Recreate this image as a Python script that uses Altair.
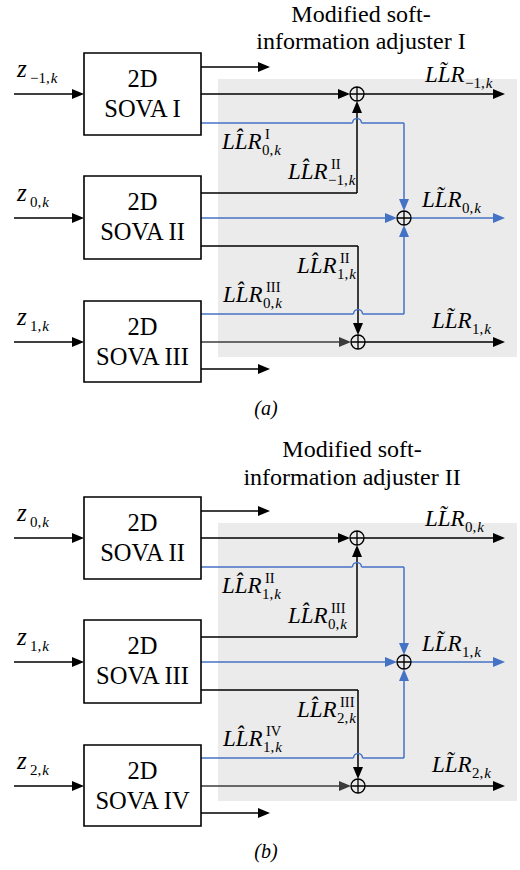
import altair as alt
import pandas as pd

W, H = 520, 870
FONT = "Liberation Serif"
BLACK = "#000000"
DARK = "#3c3c3c"
BLUE = "#4472C4"
PANEL_BG = "#EBEBEB"

# vertical offset of the lower diagram (b) relative to the upper one (a)
SHIFT = [0, 444]

# ---- blocks -------------------------------------------------------------
BOX_X = (84, 201)
BOX_TOP = [53, 176, 301]
BOX_BOTTOM = [135, 259, 382]
BOX_NAMES = [["SOVA I", "SOVA II", "SOVA III"],
             ["SOVA II", "SOVA III", "SOVA IV"]]
INPUT_Y = [94, 218, 342]
INPUT_SUB = [["\u22121,", "0,", "1,"], ["0,", "1,", "2,"]]

# shaded adjuster region
ADJ_X = (218, 517)
ADJ_Y = (79, 357)

# ---- connections: x1, y1, x2, y2, colour --------------------------------
SEGMENTS = [
    (14, 94, 76, 94, BLACK), (14, 218, 76, 218, BLACK), (14, 342, 76, 342, BLACK),
    (201, 67, 262, 67, BLACK),
    (201, 94, 344, 94, BLACK), (364, 94, 497, 94, BLACK),
    (201, 193, 357, 193, BLACK), (357, 193, 357, 108, BLACK),
    (201, 246, 358, 246, BLACK), (358, 246, 358, 328, BLACK),
    (201, 342, 345, 342, DARK), (365, 342, 497, 342, BLACK),
    (201, 369, 262, 369, BLACK),
    (201, 123, 352.5, 123, BLUE), (361.5, 123, 404, 123, BLUE), (404, 123, 404, 204, BLUE),
    (201, 218, 391, 218, BLUE), (411, 218, 497, 218, BLUE),
    (201, 314, 353.5, 314, BLUE), (362.5, 314, 404, 314, BLUE), (404, 314, 404, 232, BLUE),
]
# line hops where a blue wire crosses a black one
HOPS = [(357, 123), (358, 314)]

# arrow heads: tip x, tip y, direction, colour
ARROWS = [
    (84, 94, "R", BLACK), (84, 218, "R", BLACK), (84, 342, "R", BLACK),
    (270, 67, "R", BLACK), (350, 94, "R", BLACK), (505, 94, "R", BLACK),
    (357, 101, "U", BLACK), (358, 335, "D", BLACK), (351, 342, "R", DARK),
    (505, 342, "R", BLACK), (270, 369, "R", BLACK),
    (404, 211, "D", BLUE), (397, 218, "R", BLUE), (505, 218, "R", BLUE),
    (404, 225, "U", BLUE),
]
# adders (circle with plus)
ADDERS = [(357, 94), (404, 218), (358, 342)]

# ---- labels ---------------------------------------------------------------
HAT = "L" + "L\u0302" + "R"
TILDE = "L" + "L\u0303" + "R"
# x, baseline y, main text, subscript number part, superscript
WIRE_LABELS = [
    [(222, 149, HAT, "0,", "I"), (288, 179, HAT, "\u22121,", "II"),
     (297, 273, HAT, "1,", "II"), (223, 302, HAT, "0,", "III"),
     (425, 82, TILDE, "\u22121,", ""), (422, 207, TILDE, "0,", ""),
     (432, 328, TILDE, "1,", "")],
    [(222, 149, HAT, "1,", "II"), (288, 179, HAT, "0,", "III"),
     (297, 273, HAT, "2,", "III"), (223, 302, HAT, "1,", "IV"),
     (425, 82, TILDE, "0,", ""), (422, 207, TILDE, "1,", ""),
     (432, 328, TILDE, "2,", "")],
]
TITLES = [["Modified soft-", "information adjuster I"],
          ["Modified soft-", "information adjuster II"]]
TITLE_X = [361, 352]
TITLE_Y = [[22, 49], [457, 485]]
CAPTIONS = ["(a)", "(b)"]
CAPTION_X = 266
CAPTION_Y = [415, 858]

ARROW_PATH = {
    "R": "M 0 0 L -1.2 -0.5 L -1.2 0.5 Z",
    "U": "M 0 0 L -0.5 1.2 L 0.5 1.2 Z",
    "D": "M 0 0 L -0.5 -1.2 L 0.5 -1.2 Z",
}
ADDER_PATH = ("M 1 0 A 1 1 0 1 1 -1 0 A 1 1 0 1 1 1 0 Z "
              "M -1 0 L 1 0 M 0 -1 L 0 1")
HOP_PATH = "M -1 0 A 1 1 0 0 1 1 0"

CHAR_W = {"0": 0.5, "1": 0.5, "2": 0.5, ",": 0.25, "\u2212": 0.564}


def text_width(s, size):
    return sum(CHAR_W.get(c, 0.5) for c in s) * size


# ---- build tables ---------------------------------------------------------
bg, boxes, segs, hops, arrows, adders = [], [], [], [], [], []
texts = []  # x, y, t, size, italic, anchor
for p, dy in enumerate(SHIFT):
    bg.append(dict(x=ADJ_X[0], x2=ADJ_X[1], y=ADJ_Y[0] + dy, y2=ADJ_Y[1] + dy))
    for i in range(3):
        top, bot = BOX_TOP[i] + dy, BOX_BOTTOM[i] + dy
        boxes.append(dict(x=BOX_X[0], x2=BOX_X[1], y=top, y2=bot))
        cx = (BOX_X[0] + BOX_X[1]) / 2
        texts.append((cx, top + 34, "2D", 24.5, "n", "center"))
        texts.append((cx, top + 64, BOX_NAMES[p][i], 24.5, "n", "center"))
        zy = INPUT_Y[i] + dy - 17
        texts.append((17, zy, "z", 25, "i", "left"))
        num = INPUT_SUB[p][i]
        texts.append((30, zy + 6, num, 15, "n", "left"))
        texts.append((30 + text_width(num, 15) + 1, zy + 6, "k", 15, "i", "left"))
    for x1, y1, x2, y2, c in SEGMENTS:
        segs.append(dict(x=x1, y=y1 + dy, x2=x2, y2=y2 + dy, c=c))
    for x, y in HOPS:
        hops.append(dict(x=x, y=y + dy, shape=HOP_PATH))
    for x, y, d, c in ARROWS:
        arrows.append(dict(x=x, y=y + dy, shape=ARROW_PATH[d], c=c))
    for x, y in ADDERS:
        adders.append(dict(x=x, y=y + dy, shape=ADDER_PATH))
    for x, y, main, num, sup in WIRE_LABELS[p]:
        y = y + dy
        texts.append((x, y, main, 23, "i", "left"))
        sx = x + 40
        texts.append((sx, y + 6, num, 15, "n", "left"))
        texts.append((sx + text_width(num, 15) + 1, y + 6, "k", 15, "i", "left"))
        if sup:
            texts.append((x + 43, y - 10, sup, 14.5, "n", "left"))
    for j, line in enumerate(TITLES[p]):
        texts.append((TITLE_X[p], TITLE_Y[p][j], line, 24, "n", "center"))
    texts.append((CAPTION_X, CAPTION_Y[p], CAPTIONS[p], 20, "i", "center"))

text_df = pd.DataFrame(texts, columns=["x", "y", "t", "fsize", "style", "anchor"])

xs = alt.Scale(domain=[0, W], range=[0, W])
ys = alt.Scale(domain=[0, H], range=[0, H])
X = alt.X("x:Q", scale=xs, axis=None)
Y = alt.Y("y:Q", scale=ys, axis=None)

bg_layer = alt.Chart(pd.DataFrame(bg)).mark_rect(color=PANEL_BG).encode(
    x=X, x2="x2:Q", y=Y, y2="y2:Q")
box_layer = alt.Chart(pd.DataFrame(boxes)).mark_rect(
    fill="white", stroke=BLACK, strokeWidth=1.6).encode(
    x=X, x2="x2:Q", y=Y, y2="y2:Q")
seg_layer = alt.Chart(pd.DataFrame(segs)).mark_rule(strokeWidth=1.5).encode(
    x=X, x2="x2:Q", y=Y, y2="y2:Q", color=alt.Color("c:N", scale=None))
hop_layer = alt.Chart(pd.DataFrame(hops)).mark_point(
    filled=False, stroke=BLUE, strokeWidth=1.5, size=81, opacity=1).encode(
    x=X, y=Y, shape=alt.Shape("shape:N", scale=None))
arrow_layer = alt.Chart(pd.DataFrame(arrows)).mark_point(
    filled=True, size=400, opacity=1, strokeWidth=0).encode(
    x=X, y=Y, shape=alt.Shape("shape:N", scale=None),
    color=alt.Color("c:N", scale=None))
adder_layer = alt.Chart(pd.DataFrame(adders)).mark_point(
    filled=False, stroke=BLACK, strokeWidth=1.3, size=196, opacity=1).encode(
    x=X, y=Y, shape=alt.Shape("shape:N", scale=None))

text_layers = []
for style in ("n", "i"):
    for anchor in ("left", "center"):
        part = text_df[(text_df["style"] == style) & (text_df["anchor"] == anchor)]
        if part.empty:
            continue
        text_layers.append(
            alt.Chart(part).mark_text(
                font=FONT, fontStyle="italic" if style == "i" else "normal",
                align=anchor, baseline="alphabetic", color=BLACK).encode(
                x=X, y=Y, text="t:N", size=alt.Size("fsize:Q", scale=None)))

chart = alt.layer(
    bg_layer, seg_layer, hop_layer, box_layer, arrow_layer, adder_layer,
    *text_layers
).properties(
    width=W, height=H, padding=0, autosize="none", background="white"
).configure_view(stroke=None)

chart.save("out.html", embed_options={"renderer": "svg", "actions": False})
